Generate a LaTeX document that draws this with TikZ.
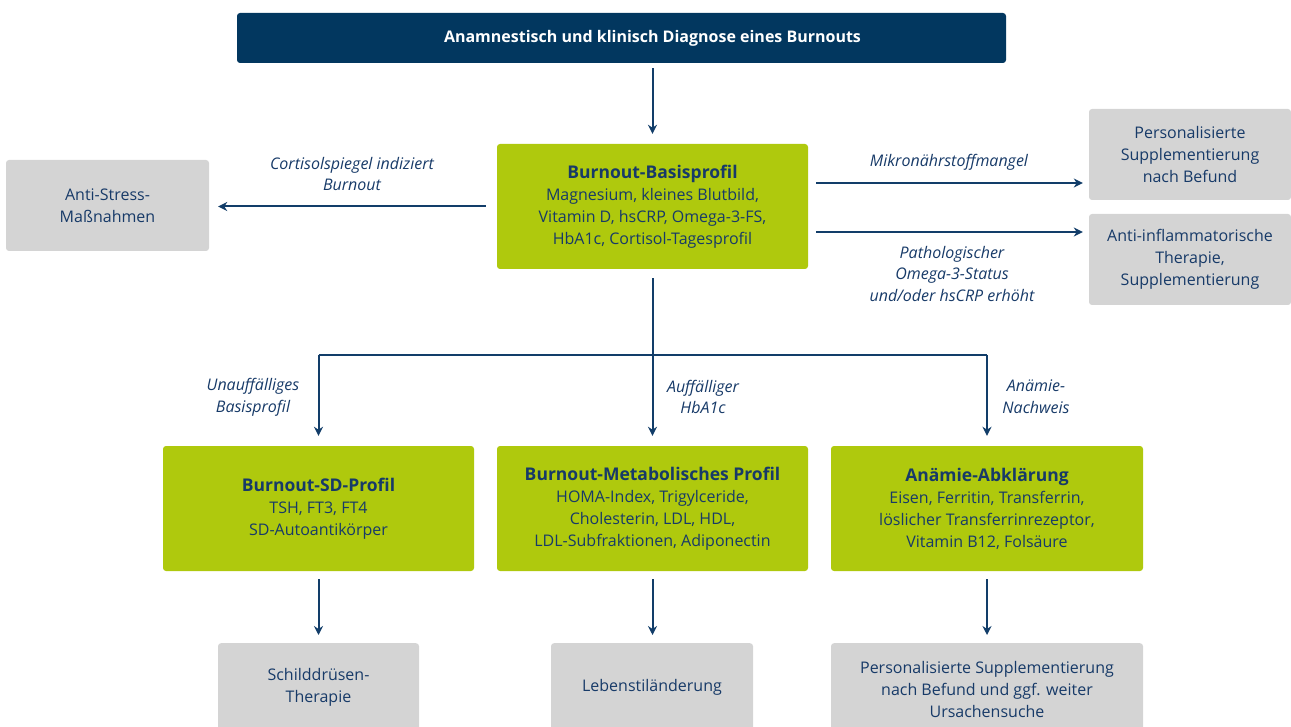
\documentclass[tikz,border=0pt]{standalone}
\usepackage{fontspec}
\setmainfont{Open Sans}
\usetikzlibrary{arrows.meta,calc}
\definecolor{navy}{HTML}{02375F}
\definecolor{lime}{HTML}{AFC90D}
\definecolor{grayb}{HTML}{D4D4D4}
\definecolor{txt}{HTML}{173A68}
\definecolor{arr}{HTML}{123D69}
\tikzset{
  box/.style={rounded corners=3pt, align=center, inner sep=0pt, text=txt},
  darkbox/.style={box, fill=navy, text=white, font=\bfseries\fontsize{16}{18}\selectfont},
  greenbox/.style={box, fill=lime, font=\fontsize{16}{22}\selectfont, minimum width=311pt, minimum height=125pt},
  graybox/.style={box, fill=grayb, font=\fontsize{16}{22}\selectfont},
  lbl/.style={align=center, text=txt, font=\itshape\fontsize{16}{21.7}\selectfont, inner sep=0pt},
  conn/.style={draw=arr, line width=2pt},
  arrow/.style={conn, -{Stealth[length=9pt,width=9pt]}},
}
\newcommand{\ttl}[1]{{\bfseries\fontsize{17.5}{24}\selectfont #1}}
\begin{document}
\begin{tikzpicture}[x=1pt,y=-1pt]
\useasboundingbox (0,0) rectangle (1291,727);
\clip (0,0) rectangle (1291,727);
% nodes
\node[darkbox, minimum width=769pt, minimum height=50pt] (top) at (621.5,38) {\hspace*{62pt}Anamnestisch und klinisch Diagnose eines Burnouts};
\node[greenbox] (basis) at (652.5,206.5) {\ttl{Burnout-Basisprofil}\\Magnesium, kleines Blutbild,\\Vitamin D, hsCRP, Omega-3-FS,\\HbA1c, Cortisol-Tagesprofil};
\node[graybox, minimum width=203pt, minimum height=91pt] (anti) at (107.5,205.5) {Anti-Stress-\\Maßnahmen};
\node[graybox, minimum width=202pt, minimum height=91pt] (pers) at (1190,154.5) {Personalisierte\\Supplementierung\\nach Befund};
\node[graybox, minimum width=202pt, minimum height=91pt] (infl) at (1190,259.5) {Anti-inflammatorische\\Therapie,\\Supplementierung};
\node[greenbox] (sd) at (318.5,508.5) {\ttl{Burnout-SD-Profil}\\TSH, FT3, FT4\\SD-Autoantikörper};
\node[greenbox] (meta) at (652.5,508.5) {\ttl{Burnout-Metabolisches Profil}\\HOMA-Index, Trigylceride,\\Cholesterin, LDL, HDL,\\LDL-Subfraktionen, Adiponectin};
\node[greenbox, minimum width=312pt] (anae) at (987,508.5) {\ttl{Anämie-Abklärung}\\Eisen, Ferritin, Transferrin,\\löslicher Transferrinrezeptor,\\Vitamin B12, Folsäure};
\node[graybox, minimum width=201pt, minimum height=88pt, anchor=north] (schild) at (318.5,643) {Schilddrüsen-\\Therapie};
\node[graybox, minimum width=202pt, minimum height=88pt, anchor=north] (leben) at (652,643) {Lebenstiländerung};
\node[graybox, minimum width=312pt, minimum height=92pt, anchor=north] (supp) at (987,643) {Personalisierte Supplementierung\\nach Befund und ggf. weiter\\Ursachensuche};
% labels
\node[lbl] (l1) at (352,174) {Cortisolspiegel indiziert\\Burnout};
\node[lbl] (l2) at (949,162) {Mikronährstoffmangel};
\node[lbl] (l3) at (952,274) {Pathologischer\\Omega-3-Status\\und/oder hsCRP erhöht};
\node[lbl] (l4) at (253,397) {Unauffälliges\\Basisprofil};
\node[lbl] (l5) at (703,397) {Auffälliger\\HbA1c};
\node[lbl] (l6) at (1036,397) {Anämie-\\Nachweis};
% connectors
\coordinate (j) at (652.5,355);
\draw[arrow, shorten <=5pt, shorten >=10pt] (top.south -| basis.north) -- (basis.north);
\draw[arrow, shorten <=11pt, shorten >=9pt] (basis.west) -- (anti.east |- basis.west);
\draw[arrow, shorten <=8pt, shorten >=6pt] ([yshift=23.5pt]basis.east) -- ([yshift=23.5pt]basis.east -| pers.west);
\draw[arrow, shorten <=8pt, shorten >=6pt] ([yshift=-25.5pt]basis.east) -- ([yshift=-25.5pt]basis.east -| infl.west);
\draw[conn, shorten <=9pt] (basis.south) -- (j);
\draw[conn] (sd.north |- j) -- (anae.north |- j);
\draw[arrow, shorten >=10pt] (sd.north |- j) -- (sd.north);
\draw[arrow, shorten >=10pt] (j) -- (meta.north);
\draw[arrow, shorten >=10pt] (anae.north |- j) -- (anae.north);
\draw[arrow, shorten <=8pt, shorten >=8pt] (sd.south) -- (schild.north);
\draw[arrow, shorten <=8pt, shorten >=8pt] (meta.south) -- (leben.north -| meta.south);
\draw[arrow, shorten <=8pt, shorten >=8pt] (anae.south) -- (supp.north);
\end{tikzpicture}
\end{document}
